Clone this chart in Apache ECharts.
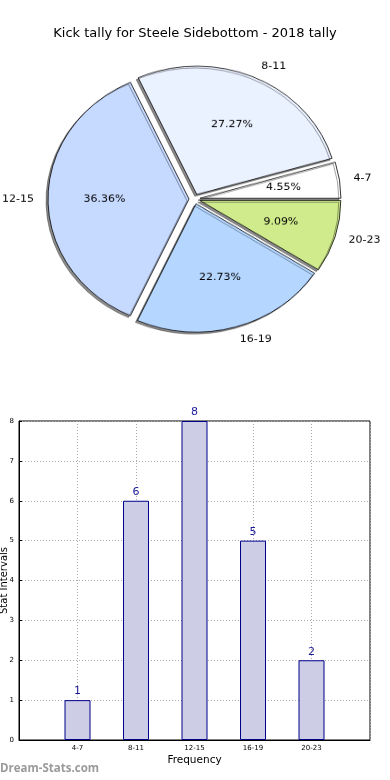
<!DOCTYPE html>
<html>
<head>
<meta charset="utf-8">
<script src="https://cdn.jsdelivr.net/npm/echarts@6/dist/echarts.min.js"></script>
<style>
  html, body { margin: 0; padding: 0; background: #fff; }
  #main { position: absolute; left: 0; top: 0; width: 390px; height: 780px; }
  #pie { position: absolute; left: 0; top: 0; width: 390px; height: 400px;
         transform: scaleY(0.91); transform-origin: 195px 199px; pointer-events: none; }
</style>
</head>
<body>
<div id="main"></div>
<div id="pie"></div>
<script>
const titleText = 'Kick tally for Steele Sidebottom - 2018 tally';
const categories = ['4-7', '8-11', '12-15', '16-19', '20-23'];
const counts = [1, 6, 8, 5, 2];
const pieColors = ['#ffffff', '#eaf1ff', '#c6d9ff', '#b4d6ff', '#d0eb8c'];
const yTicks = [0, 1, 2, 3, 4, 5, 6, 7, 8];
const xAxisName = 'Frequency';
const yAxisName = 'Stat Intervals';
const watermark = 'Dream-Stats.com';

const FONT = 'DejaVu Sans';

// ---------- main chart: title, bars, watermark ----------
const main = echarts.init(document.getElementById('main'), null, { renderer: 'canvas' });
const xCats = [''].concat(categories, ['']);
const barData = [null].concat(counts, [null]);
main.setOption({
  animation: false,
  backgroundColor: '#fff',
  title: {
    text: titleText, left: 'center', top: 22,
    textStyle: { fontFamily: FONT, fontSize: 13, fontWeight: 'normal', color: '#000' }
  },
  grid: { left: 19, right: 20, top: 421, bottom: 40, outerBoundsMode: 'none', containLabel: false,
          show: true, borderColor: '#000', borderWidth: 1, backgroundColor: 'transparent' },
  xAxis: {
    type: 'category', data: xCats, boundaryGap: false,
    axisLine: { lineStyle: { color: '#000', width: 1 } },
    axisTick: { show: false },
    axisLabel: { fontFamily: FONT, fontSize: 7, color: '#000', margin: 5, interval: 0 },
    splitLine: { show: true, interval: 0, lineStyle: { type: [1, 2], color: '#aaa', width: 1 } },
    name: xAxisName, nameLocation: 'middle', nameGap: 15, nameMoveOverlap: false,
    nameTextStyle: { fontFamily: FONT, fontSize: 10.5, color: '#000' }
  },
  yAxis: {
    type: 'value', min: yTicks[0], max: yTicks[yTicks.length - 1], interval: 1,
    axisLine: { show: true, lineStyle: { color: '#000', width: 1 } },
    axisTick: { show: true, inside: true, length: 3, lineStyle: { color: '#000' } },
    axisLabel: { fontFamily: FONT, fontSize: 7, color: '#000', margin: 5 },
    splitLine: { show: true, lineStyle: { type: [1, 2], color: '#aaa', width: 1 } },
    name: yAxisName, nameLocation: 'middle', nameGap: 10, nameRotate: 90, nameMoveOverlap: false,
    nameTextStyle: { fontFamily: FONT, fontSize: 10, color: '#000' }
  },
  graphic: [{
    type: 'text', left: 0, top: 763,
    style: { text: watermark, fontFamily: 'Open Sans', fontWeight: 'bold', fontSize: 11.5, fill: '#9a9a9a' }
  }],
  series: [{
    type: 'bar', data: barData, barWidth: 26,
    itemStyle: { color: '#cdcde5', borderColor: '#00008b', borderWidth: 1 },
    label: { show: true, position: 'top', distance: 3, fontFamily: FONT, fontSize: 11, color: '#1a1a9a' },
    emphasis: { disabled: true }
  }]
});

// ---------- pie chart (elliptical via CSS scaleY) ----------
const pie = echarts.init(document.getElementById('pie'), null, { renderer: 'canvas' });
const CX = 194.5, CY = 199, R = 141, OFF = 5.5;
pie.setOption({
  animation: false,
  series: [{
    type: 'pie', center: [CX, CY], radius: R, startAngle: 0, clockwise: false,
    selectedMode: 'multiple', selectedOffset: OFF, avoidLabelOverlap: false,
    itemStyle: { borderColor: '#000', borderWidth: 0.8, shadowColor: 'rgba(0,0,0,0.45)', shadowOffsetX: -2, shadowOffsetY: 2, shadowBlur: 0 },
    label: { show: true, position: 'outside', fontFamily: FONT, fontSize: 11, color: '#000',
             distanceToLabelLine: 0, bleedMargin: 0, overflow: 'none' },
    labelLine: { show: false, length: 14.1, length2: 0 },
    emphasis: { disabled: true },
    data: categories.map((c, i) => ({ name: c, value: counts[i], selected: true, itemStyle: { color: pieColors[i] } }))
  }, {
    type: 'pie', center: [CX, CY], radius: [67, 96], startAngle: 0, clockwise: false,
    selectedMode: 'multiple', selectedOffset: OFF, avoidLabelOverlap: false, silent: true,
    itemStyle: { color: 'rgba(0,0,0,0)', borderWidth: 0 },
    label: { show: true, position: 'inside', fontFamily: FONT, fontSize: 11, color: '#000',
             formatter: p => p.percent.toFixed(2) + '%' },
    labelLine: { show: false },
    emphasis: { disabled: true },
    data: categories.map((c, i) => ({ name: c, value: counts[i], selected: true }))
  }]
});
</script>
</body>
</html>
